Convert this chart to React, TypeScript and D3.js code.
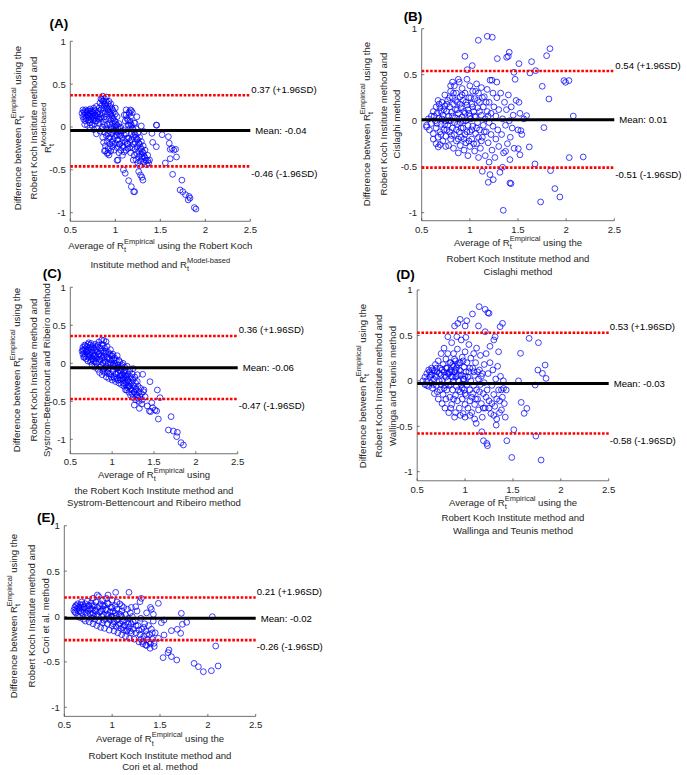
import React from "react";
import * as d3 from "d3";

// ---------- data ----------
const xTicks = [0.5, 1, 1.5, 2, 2.5];
const yTicks = [-1, -0.5, 0, 0.5, 1];

// [upper limit (+1.96SD), mean, lower limit (-1.96SD)]
const statsA = [0.37, -0.04, -0.46];
const statsB = [0.54, 0.01, -0.51];
const statsC = [0.36, -0.06, -0.47];
const statsD = [0.53, -0.03, -0.58];
const statsE = [0.21, -0.02, -0.26];

const panelLetters = ["(A)", "(B)", "(C)", "(D)", "(E)"];

const pointsA: number[][] = [
  [0.63,0.16],[0.64,0.12],[0.65,0.18],[0.65,0.09],[0.66,0.14],[0.67,0.2],[0.67,0.07],[0.68,0.11],[0.68,0.17],[0.69,0.14],[0.7,0.19],[0.7,0.08],[0.71,0.12],[0.71,0.16],[0.72,0.21],[0.72,0.05],[0.73,0.1],[0.73,0.15],[0.74,0.18],[0.74,0.02],[0.75,0.08],[0.75,0.13],[0.76,0.22],[0.76,0.16],[0.77,0.04],[0.77,0.1],[0.78,0.19],[0.78,0.14],[0.79,0.07],[0.79,0.24],[0.8,0.12],[0.8,-0.02],[0.81,0.18],[0.81,0.05],[0.82,0.22],[0.82,0.09],[0.66,0.03],[0.69,0.02],[0.72,-0.01],[0.76,-0.03],[0.79,-0.08],[0.83,-0.05],
  [0.64,0.2],[0.66,0.17],[0.67,0.1],[0.69,0.19],[0.7,0.14],[0.71,0.08],[0.73,0.19],[0.74,0.12],[0.75,0.17],[0.77,0.13],[0.77,0.2],[0.78,0.07],[0.8,0.16],[0.81,0.1],[0.83,0.15],[0.84,0.2],[0.85,0.1],[0.86,0.16],
  [0.83,0.28],[0.84,0.33],[0.85,0.25],[0.86,0.36],[0.86,0.3],[0.87,0.22],[0.88,0.33],[0.88,0.27],[0.89,0.18],[0.9,0.3],[0.9,0.24],[0.91,0.15],[0.92,0.27],[0.92,0.2],[0.93,0.11],[0.94,0.24],[0.94,0.17],[0.95,0.08],[0.96,0.22],[0.96,0.13],[0.97,0.04],[0.98,0.18],[0.98,0.1],[0.99,0.01],[1.0,0.15],[1.0,0.06],[1.01,-0.03],[1.02,0.12],[1.02,0.02],[1.03,-0.06],[1.04,0.04],[1.05,-0.01],[1.05,-0.1],[1.06,0.0],[1.07,-0.05],[1.08,-0.13],[1.09,-0.04],[1.1,-0.09],[1.11,-0.17],[1.12,-0.08],[1.13,-0.13],[1.14,-0.2],[1.15,-0.13],[1.16,-0.17],
  [0.85,0.32],[0.87,0.3],[0.89,0.26],[0.91,0.22],[0.93,0.18],[0.95,0.15],[0.97,0.1],[0.99,0.07],[1.01,0.03],[1.03,0.0],[0.9,0.35],[0.93,0.3],[0.95,0.27],[0.97,0.2],[1.0,0.22],[0.88,0.12],
  [0.84,0.12],[0.85,-0.02],[0.86,-0.12],[0.87,0.06],[0.87,-0.18],[0.88,-0.06],[0.89,0.09],[0.89,-0.22],[0.9,-0.1],[0.91,0.03],[0.91,-0.17],[0.92,-0.25],[0.93,-0.04],[0.93,-0.13],[0.94,-0.2],[0.95,0.0],[0.95,-0.28],[0.96,-0.08],[0.97,-0.16],[0.97,-0.23],[0.98,-0.04],[0.99,-0.12],[0.99,-0.27],[1.0,-0.19],[1.01,-0.09],[1.02,-0.24],[1.03,-0.15],[1.04,-0.3],[1.05,-0.2],[1.06,-0.27],[1.07,-0.18],[1.08,-0.33],[1.09,-0.24],[1.1,-0.29],[0.88,-0.28],[0.92,-0.3],
  [0.86,0.0],[0.88,0.02],[0.9,-0.02],[0.92,-0.08],[0.94,-0.12],[0.96,-0.18],[0.98,-0.2],[1.0,-0.05],[1.02,-0.1],[1.04,-0.2],[1.06,-0.1],[1.08,-0.22],[0.94,0.03],[0.96,-0.02],
  [1.1,0.14],[1.11,0.07],[1.12,0.2],[1.13,0.1],[1.14,0.02],[1.15,0.17],[1.16,0.07],[1.16,-0.02],[1.17,0.12],[1.18,0.02],[1.18,-0.08],[1.19,0.17],[1.2,-0.03],[1.2,-0.11],[1.21,0.05],[1.22,-0.09],[1.22,-0.18],[1.23,-0.02],[1.24,-0.14],[1.24,-0.23],[1.25,-0.07],[1.26,-0.19],[1.26,-0.28],[1.27,-0.12],[1.28,-0.24],[1.28,-0.32],[1.29,-0.17],[1.3,-0.29],[1.3,-0.37],[1.31,-0.22],[1.32,-0.34],[1.32,-0.41],[1.33,-0.27],[1.34,-0.39],[1.35,-0.44],[1.36,-0.33],[1.37,-0.42],[1.14,-0.25],[1.17,-0.3],[1.19,-0.24],[1.21,-0.33],[1.23,-0.38],[1.25,-0.42],[1.13,-0.2],[1.12,-0.27],[1.27,-0.45],
  [1.12,0.14],[1.14,0.08],[1.15,0.02],[1.17,0.04],[1.19,-0.02],[1.21,-0.06],[1.23,-0.12],[1.25,-0.15],[1.27,-0.2],[1.29,-0.26],[1.31,-0.3],[1.33,-0.36],[1.2,-0.2],[1.22,-0.26],[1.24,-0.31],[1.26,-0.35],[1.28,-0.4],[1.16,-0.24],[1.18,-0.15],
  [1.456,0.023],[1.46,0.02],[1.52,-0.09],[1.415,-0.179],[1.456,-0.23],[1.59,-0.113],[1.6,-0.19],[1.61,-0.26],[1.63,-0.25],[1.65,-0.27],[1.67,-0.26],[1.68,-0.35],[1.61,-0.37],[1.556,-0.42],[1.637,-0.552],[1.74,-0.62],[1.72,-0.735],[1.75,-0.755],[1.78,-0.79],[1.82,-0.81],[1.83,-0.83],[1.81,-0.85],[1.878,-0.94],[1.896,-0.957],[1.09,-0.5],[1.11,-0.54],[1.148,-0.626],[1.178,-0.696],[1.204,-0.755],[1.215,-0.755],[1.26,-0.52],[1.28,-0.56],[1.296,-0.587],[1.307,-0.62],[1.03,-0.385],[1.02,-0.39],[1.2,-0.385],[1.36,-0.393],[1.38,-0.385],[1.296,-0.346],[0.93,-0.327],[0.89,-0.276],[0.91,-0.31],[1.407,-0.074],[1.289,0.012],[1.32,-0.054],[1.22,0.043],[1.167,0.199],[1.159,0.16],[1.178,0.19],[1.24,0.12]
];

const pointsB: number[][] = [
  [0.55,-0.05],[0.57,0.02],[0.58,-0.1],[0.6,0.05],[0.6,-0.03],[0.62,-0.14],[0.62,0.1],
  [0.64,0.0],[0.65,0.15],[0.65,-0.08],[0.66,0.08],[0.67,-0.18],[0.67,0.22],[0.68,0.03],[0.69,-0.12],[0.69,0.14],[0.7,-0.04],[0.7,0.1],[0.71,0.2],[0.72,-0.22],[0.72,0.06],
  [0.73,-0.1],[0.74,0.16],[0.74,0.28],[0.75,0.0],[0.75,-0.17],[0.76,0.1],[0.77,-0.05],[0.77,0.22],[0.78,-0.27],[0.78,0.05],[0.79,0.15],[0.79,-0.12],[0.8,0.32],[0.8,-0.2],[0.8,0.0],
  [0.81,0.09],[0.82,0.25],[0.82,-0.08],[0.83,-0.3],[0.83,0.18],[0.84,0.38],[0.84,-0.15],[0.85,0.03],[0.85,0.12],[0.86,-0.22],[0.86,0.3],[0.87,-0.04],[0.87,0.2],[0.88,-0.35],[0.88,0.08],[0.89,-0.12],[0.89,0.42],[0.9,0.26],[0.9,-0.02],[0.9,-0.27],
  [0.91,0.14],[0.91,-0.18],[0.92,0.35],[0.92,0.04],[0.93,-0.08],[0.93,0.22],[0.94,-0.32],[0.94,0.1],[0.95,-0.15],[0.95,0.3],[0.96,0.0],[0.96,-0.24],[0.97,0.17],[0.97,0.45],[0.98,-0.05],[0.98,-0.38],[0.99,0.08],[0.99,0.25],[1.0,-0.12],[1.0,-0.28],[1.0,0.38],
  [1.01,0.02],[1.02,0.18],[1.02,-0.2],[1.03,0.32],[1.03,-0.06],[1.04,0.1],[1.05,-0.33],[1.05,0.24],[1.06,-0.14],[1.06,0.04],[1.07,0.4],[1.07,-0.25],[1.08,0.14],[1.08,-0.02],[1.09,0.3],[1.09,-0.4],[1.1,-0.1],[1.1,0.2],
  [1.11,-0.3],[1.12,0.06],[1.12,0.36],[1.13,-0.18],[1.14,0.15],[1.14,-0.05],[1.15,0.26],[1.16,-0.38],[1.16,0.02],[1.17,-0.12],[1.18,0.34],[1.18,0.1],[1.19,-0.24],[1.2,-0.02],[1.2,0.2],[1.2,-0.45],
  [1.21,0.44],[1.22,-0.15],[1.22,0.08],[1.23,-0.32],[1.24,0.3],[1.24,-0.06],[1.25,0.15],[1.26,-0.4],[1.27,-0.2],[1.27,0.05],[1.28,0.25],[1.29,-0.1],[1.3,-0.28],[1.3,0.12],
  [1.32,0.3],[1.33,-0.15],[1.34,0.02],[1.35,-0.35],[1.36,0.2],[1.37,-0.05],[1.38,0.12],[1.39,-0.25],[1.4,0.28],[1.41,0.0],[1.42,-0.18],[1.43,0.15],[1.44,-0.08],[1.45,0.06],[1.46,-0.3],[1.48,0.22],[1.5,-0.1],[1.51,0.2],[1.52,0.08],[1.54,-0.15],[1.56,0.02],[1.47,0.45],[1.28,0.42],[1.23,0.44],
  [0.63,0.05],[0.66,-0.03],[0.68,0.18],[0.7,-0.15],[0.71,0.02],[0.73,0.12],[0.74,-0.04],[0.76,0.18],[0.76,-0.1],[0.78,0.0],[0.79,0.25],[0.81,-0.16],[0.82,0.05],[0.83,0.3],[0.84,-0.02],[0.85,0.22],[0.86,-0.1],[0.87,0.12],[0.88,-0.2],[0.89,0.02],[0.9,0.18],[0.91,-0.08],[0.92,0.28],[0.93,0.0],[0.94,-0.2],[0.95,0.08],[0.96,0.2],[0.97,-0.12],[0.98,0.12],[0.99,-0.22],[1.0,0.05],[1.01,0.25],[1.02,-0.1],[1.03,0.15],[1.04,-0.25],[1.05,0.05],[1.06,0.32],[1.07,-0.08],[1.08,0.22],[1.09,-0.18],[1.1,0.1],[1.12,-0.22],[1.13,0.25],[1.15,-0.12],[1.17,0.2],[1.19,0.05],[0.62,-0.2],[0.65,-0.25],[0.75,-0.28],[0.8,0.38],[0.88,0.45],[0.82,0.42],
  [1.088,0.874],[1.181,0.917],[1.233,0.907],[0.949,0.7],[1.285,0.675],[1.382,0.689],[1.409,0.744],[1.399,0.7],[1.51,0.62],[1.641,0.642],[1.797,0.707],[1.832,0.783],[1.458,0.526],[1.624,0.519],[1.683,0.544],[1.025,0.599],[0.973,0.555],[1.977,0.436],[2.029,0.436],[1.994,0.417],[1.752,0.374],[1.821,0.236],[2.074,0.051],[1.769,-0.075],[1.589,0.055],[1.53,-0.108],[2.032,-0.401],[2.177,-0.394],[1.676,-0.47],[1.838,-0.543],[1.883,-0.738],[1.935,-0.829],[1.735,-0.883],[1.347,-0.974],[1.416,-0.677],[1.427,-0.684],[1.191,-0.67],[1.243,-0.641],[1.129,-0.55],[1.312,-0.561],[1.34,-0.506],[1.209,-0.586],[0.69,-0.26],[0.672,-0.285],[0.551,-0.068],[1.617,-0.285],[1.503,-0.304],[1.52,-0.37],[1.371,-0.333],[1.416,-0.423]
];

const pointsC: number[][] = [
  [0.64,0.16],[0.65,0.12],[0.65,0.21],[0.66,0.08],[0.66,0.17],[0.67,0.13],[0.67,0.24],[0.68,0.1],[0.68,0.19],[0.69,0.06],[0.69,0.15],[0.7,0.22],[0.7,0.11],[0.71,0.03],[0.71,0.17],[0.72,0.27],[0.72,0.08],
  [0.73,0.14],[0.73,0.21],[0.74,0.02],[0.74,0.1],[0.75,0.18],[0.75,0.26],[0.76,0.06],[0.76,-0.02],[0.77,0.13],[0.77,0.22],[0.78,0.03],[0.78,0.09],[0.79,0.17],[0.79,-0.05],[0.8,0.25],[0.8,0.11],
  [0.81,0.0],[0.81,0.06],[0.82,0.15],[0.82,0.22],[0.83,-0.08],[0.83,0.09],[0.84,0.02],[0.84,0.28],[0.85,0.13],[0.85,-0.12],[0.86,0.2],[0.86,0.05],[0.87,-0.03],[0.87,0.1],[0.88,0.25],[0.88,-0.15],[0.89,0.16],[0.89,0.0],[0.9,-0.07],[0.9,0.08],[0.9,0.3],
  [0.91,0.2],[0.91,-0.12],[0.92,0.02],[0.92,0.13],[0.93,-0.04],[0.93,-0.18],[0.94,0.08],[0.94,0.22],[0.95,-0.1],[0.95,0.0],[0.96,0.14],[0.96,-0.2],[0.97,0.05],[0.97,-0.06],[0.98,0.18],[0.98,-0.14],[0.99,0.1],[0.99,-0.02],[1.0,-0.22],[1.0,0.04],
  [1.01,-0.1],[1.01,0.12],[1.02,-0.04],[1.02,-0.18],[1.03,0.07],[1.03,0.0],[1.04,-0.14],[1.04,-0.24],[1.05,0.04],[1.05,-0.07],[1.06,-0.2],[1.06,0.1],[1.07,-0.02],[1.07,-0.12],[1.08,-0.26],[1.08,-0.06],[1.09,0.02],[1.09,-0.17],[1.1,-0.1],[1.1,-0.22],
  [1.11,-0.04],[1.11,-0.28],[1.12,-0.15],[1.12,-0.08],[1.13,-0.2],[1.13,0.0],[1.14,-0.12],[1.14,-0.3],[1.15,-0.05],[1.15,-0.22],[1.16,-0.16],[1.16,-0.35],[1.17,-0.1],[1.17,-0.26],[1.18,-0.2],[1.18,-0.04],[1.19,-0.3],[1.19,-0.14],[1.2,-0.24],[1.2,-0.38],
  [1.21,-0.1],[1.21,-0.3],[1.22,-0.18],[1.22,-0.42],[1.23,-0.26],[1.24,-0.35],[1.24,-0.14],[1.25,-0.22],[1.25,-0.45],[1.26,-0.3],[1.27,-0.38],[1.27,-0.18],[1.28,-0.26],[1.28,-0.48],[1.29,-0.34],[1.3,-0.42],[1.3,-0.24],[1.31,-0.3],[1.32,-0.38],[1.32,-0.5],[1.33,-0.44],[1.34,-0.33],[1.35,-0.4],[1.36,-0.48],[1.38,-0.35],[1.25,-0.07],[1.3,-0.15],
  [0.65,0.18],[0.67,0.08],[0.68,0.23],[0.7,0.16],[0.71,0.25],[0.72,0.12],[0.74,0.24],[0.75,0.04],[0.76,0.15],[0.77,0.06],[0.78,0.2],[0.79,0.1],[0.8,0.02],[0.81,0.2],[0.83,0.24],[0.84,0.12],[0.85,0.05],[0.86,-0.05],[0.87,0.16],[0.88,0.06],[0.89,-0.1],[0.9,0.14],[0.91,0.04],[0.92,-0.06],[0.93,0.16],[0.94,-0.12],[0.95,0.06],[0.96,-0.14],[0.97,0.12],[0.98,0.0],[0.99,-0.18],[1.0,0.1],[1.01,-0.02],[1.02,0.06],[1.03,-0.2],[1.04,-0.04],[1.05,-0.14],[1.06,-0.06],[1.07,-0.22],[1.08,0.04],[1.09,-0.1],[1.1,-0.16],[1.11,-0.2],[1.12,-0.02],[1.13,-0.26],[1.14,-0.18],[1.15,-0.1],[1.16,-0.28],[1.17,-0.18],[1.18,-0.32],[1.19,-0.22],[1.2,-0.3],[1.22,-0.34],[1.23,-0.2],[1.24,-0.4],[1.26,-0.38],[1.28,-0.34],[1.29,-0.42],[1.31,-0.46],
  [1.452,-0.242],[1.54,-0.351],[1.572,-0.452],[1.393,-0.439],[1.473,-0.518],[1.512,-0.615],[1.552,-0.733],[1.484,-0.584],[1.42,-0.562],[1.445,-0.628],[1.46,-0.636],[1.532,-0.628],[1.704,-0.702],[1.672,-0.878],[1.731,-0.891],[1.779,-0.908],[1.771,-0.965],[1.823,-1.044],[1.851,-1.075],[1.353,-0.536],[1.325,-0.593],[1.265,-0.549],[1.174,-0.351],[1.373,-0.373],[0.927,0.285],[0.875,0.306],[0.895,0.241],[1.365,-0.145]
];

const pointsD: number[][] = [
  [0.56,0.0],[0.58,0.04],[0.58,-0.04],[0.6,0.08],[0.6,0.0],[0.62,-0.06],[0.62,0.12],[0.63,0.04],[0.64,-0.02],[0.65,0.14],[0.65,0.07],[0.66,-0.08],[0.67,0.02],[0.68,0.11],[0.68,-0.14],[0.69,0.18],[0.7,0.04],[0.7,-0.05],[0.71,0.1],[0.72,-0.2],[0.72,0.22],[0.73,0.0],
  [0.74,0.14],[0.74,-0.1],[0.75,0.07],[0.75,0.3],[0.76,-0.25],[0.76,0.0],[0.77,0.18],[0.77,-0.15],[0.78,0.1],[0.78,0.36],[0.79,-0.05],[0.79,-0.3],[0.8,0.24],[0.8,0.04],[0.8,-0.2],
  [0.81,0.14],[0.81,-0.1],[0.82,0.3],[0.82,0.0],[0.83,-0.35],[0.83,0.08],[0.84,0.2],[0.84,-0.18],[0.85,0.12],[0.85,-0.04],[0.86,0.42],[0.86,0.05],[0.86,-0.26],[0.87,0.18],[0.87,-0.1],[0.88,0.0],[0.88,0.3],[0.89,0.1],[0.89,-0.4],[0.9,-0.16],[0.9,0.22],[0.9,0.04],
  [0.91,-0.06],[0.91,0.14],[0.92,0.35],[0.92,-0.22],[0.93,0.07],[0.93,0.0],[0.94,-0.3],[0.94,0.2],[0.95,-0.12],[0.95,0.11],[0.96,0.45],[0.96,-0.04],[0.97,0.26],[0.97,-0.2],[0.98,0.02],[0.98,-0.36],[0.99,0.15],[0.99,-0.1],[1.0,0.32],[1.0,-0.26],[1.0,0.05],
  [1.01,-0.16],[1.02,0.2],[1.02,-0.04],[1.03,-0.3],[1.04,0.1],[1.04,0.4],[1.05,-0.1],[1.05,-0.22],[1.06,0.25],[1.06,0.0],[1.07,-0.35],[1.08,0.14],[1.08,-0.14],[1.09,0.3],[1.09,-0.05],[1.1,-0.26],[1.1,0.06],[1.1,-0.42],
  [1.11,0.2],[1.12,-0.1],[1.12,0.36],[1.13,-0.2],[1.14,0.02],[1.14,-0.32],[1.15,0.12],[1.16,-0.04],[1.16,0.28],[1.17,-0.25],[1.18,0.08],[1.18,-0.4],[1.19,-0.14],[1.2,0.18],[1.2,-0.02],
  [1.21,-0.3],[1.22,0.3],[1.23,-0.1],[1.24,0.08],[1.25,-0.22],[1.26,0.2],[1.27,-0.36],[1.28,-0.05],[1.29,0.12],[1.3,-0.15],[1.31,-0.28],[1.32,0.02],[1.33,-0.42],[1.34,0.16],[1.35,-0.1],[1.36,-0.22],[1.37,0.05],[1.38,-0.32],[1.39,-0.18],[1.4,0.0],[1.41,-0.25],[1.42,-0.4],[1.43,-0.1],[1.26,0.38],[1.3,0.45],[1.35,0.32],
  [0.6,-0.05],[0.63,0.1],[0.64,0.06],[0.66,0.12],[0.67,-0.04],[0.69,0.06],[0.7,0.14],[0.71,-0.12],[0.73,0.08],[0.75,-0.04],[0.76,0.12],[0.78,-0.08],[0.79,0.06],[0.8,0.14],[0.82,0.08],[0.83,-0.05],[0.84,0.1],[0.85,0.2],[0.86,0.1],[0.87,0.04],[0.88,0.16],[0.88,-0.2],[0.89,0.24],[0.9,0.12],[0.91,0.05],[0.92,0.18],[0.93,-0.1],[0.94,0.12],[0.95,0.2],[0.96,0.06],[0.97,-0.08],[0.98,0.22],[0.99,0.02],[1.0,-0.14],[1.01,0.1],[1.03,0.04],[1.05,0.14],[1.07,-0.18],[1.09,0.1],[1.11,-0.2],[1.13,0.1],[1.15,-0.12],[1.17,0.05],[1.19,-0.3],[1.22,-0.18],[1.25,-0.3],[1.28,-0.25],[1.3,-0.38],[1.33,-0.2],[1.36,-0.35],[1.38,-0.1],[0.85,-0.3],[0.9,-0.35],[0.95,-0.38],[1.0,-0.4],[1.05,-0.38],
  [1.147,0.817],[1.21,0.787],[1.238,0.75],[1.251,0.743],[1.077,0.736],[0.949,0.677],[1.018,0.662],[0.89,0.604],[0.924,0.633],[1.001,0.604],[1.391,0.633],[1.366,0.596],[1.21,0.541],[1.14,0.604],[0.82,0.486],[0.914,0.486],[1.008,0.479],[1.314,0.486],[1.669,0.468],[1.766,0.42],[1.579,0.303],[1.836,0.174],[1.76,0.119],[1.808,0.082],[1.846,0.027],[1.558,0.0],[1.732,-0.046],[1.401,-0.083],[1.586,-0.237],[1.645,-0.303],[1.617,-0.358],[1.509,-0.538],[1.739,-0.608],[1.436,-0.659],[1.192,-0.659],[1.227,-0.689],[1.234,-0.714],[1.488,-0.843],[1.794,-0.872],[1.116,-0.468],[1.175,-0.56],[1.325,-0.487]
];

const pointsE: number[][] = [
  [0.6,0.07],[0.61,0.1],[0.62,0.04],[0.62,0.12],[0.63,0.08],[0.64,0.01],[0.64,0.14],[0.65,0.06],[0.66,0.1],[0.66,-0.01],[0.67,0.13],[0.68,0.04],[0.68,0.16],[0.69,0.08],[0.7,-0.03],[0.7,0.11],
  [0.71,0.05],[0.72,0.14],[0.72,-0.05],[0.73,0.09],[0.74,0.02],[0.74,0.17],[0.75,0.06],[0.76,-0.06],[0.76,0.12],[0.77,0.03],[0.78,0.15],[0.78,-0.02],[0.79,0.08],[0.8,0.2],[0.8,-0.08],[0.8,0.04],
  [0.81,0.12],[0.82,-0.03],[0.82,0.07],[0.83,0.16],[0.84,-0.1],[0.84,0.02],[0.85,0.1],[0.86,0.22],[0.86,-0.05],[0.87,0.05],[0.88,0.14],[0.88,-0.12],[0.89,0.0],[0.9,0.08],[0.9,0.18],[0.9,-0.07],
  [0.91,0.02],[0.92,0.12],[0.92,-0.13],[0.93,-0.03],[0.94,0.07],[0.94,0.2],[0.95,-0.08],[0.96,0.01],[0.96,0.14],[0.97,-0.15],[0.98,0.05],[0.98,-0.04],[0.99,0.1],[1.0,-0.1],[1.0,0.0],[1.0,0.18],
  [1.01,0.06],[1.02,-0.06],[1.02,-0.16],[1.03,0.12],[1.04,0.01],[1.04,-0.11],[1.05,0.08],[1.06,-0.03],[1.06,-0.18],[1.07,0.03],[1.08,-0.08],[1.08,0.14],[1.09,-0.13],[1.1,0.0],[1.1,-0.2],[1.1,0.06],
  [1.11,-0.05],[1.12,-0.15],[1.12,0.1],[1.13,-0.1],[1.14,0.02],[1.14,-0.22],[1.15,-0.06],[1.16,-0.15],[1.16,0.08],[1.17,-0.02],[1.18,-0.12],[1.18,-0.24],[1.19,0.04],[1.2,-0.08],[1.2,-0.18],
  [1.21,0.0],[1.22,-0.14],[1.23,-0.25],[1.24,-0.05],[1.25,-0.18],[1.26,0.06],[1.27,-0.1],[1.28,-0.28],[1.29,-0.2],[1.3,-0.02],[1.31,-0.14],[1.32,-0.3],[1.33,-0.22],[1.34,-0.08],[1.35,-0.16],[1.36,-0.32],[1.37,-0.25],[1.38,-0.1],[1.39,-0.2],[1.4,-0.3],[1.41,-0.14],[1.42,-0.25],[1.43,-0.05],[1.44,-0.33],[1.45,-0.18],[1.36,0.04],[1.4,0.1],
  [0.61,0.05],[0.63,0.12],[0.65,0.1],[0.67,0.06],[0.69,0.13],[0.71,0.1],[0.73,0.04],[0.75,0.12],[0.77,0.08],[0.79,0.12],[0.81,0.0],[0.83,0.06],[0.85,0.0],[0.87,0.12],[0.89,0.06],[0.91,-0.04],[0.93,0.08],[0.95,0.02],[0.97,-0.02],[0.99,0.0],[1.01,-0.08],[1.03,0.04],[1.05,-0.04],[1.07,-0.1],[1.09,0.02],[1.11,-0.12],[1.13,-0.04],[1.15,-0.16],[1.17,-0.08],[1.19,-0.16],[1.22,-0.06],[1.25,-0.1],[1.28,-0.15],[1.3,-0.25],[1.33,-0.12],[1.36,-0.2],[1.39,-0.28],[1.42,-0.18],[0.9,0.12],[1.0,0.1],[1.1,0.12],[1.2,0.1],[1.05,0.16],[0.95,0.15],
  [2.047,-0.002],[2.082,-0.325],[2.107,-0.545],[2.037,-0.597],[1.953,-0.608],[1.901,-0.553],[1.856,-0.516],[1.723,0.035],[1.779,-0.064],[1.734,-0.086],[1.681,-0.141],[1.716,-0.185],[1.619,-0.156],[1.675,-0.479],[1.619,-0.442],[1.594,-0.369],[1.584,-0.398],[1.532,-0.453],[1.483,0.145],[1.305,0.2],[1.291,0.163],[1.176,0.266],[1.037,0.266],[0.957,0.237],[0.845,0.237],[1.246,0.108],[1.41,0.079],[1.431,0.024],[1.542,-0.038],[1.514,-0.068],[1.542,-0.204],[1.483,-0.24],[1.438,-0.295],[1.396,-0.35],[1.35,-0.314],[1.316,-0.277]
];

// ---------- text ----------
type Seg = string | { sub: string; sup: string };
const REMP: Seg = { sub: "t", sup: "Empirical" };
const RMOD: Seg = { sub: "t", sup: "Model-based" };

const yLabelA: Seg[][] = [["Difference between R", REMP, " using the"], ["Robert Koch Institute method and"], ["R", RMOD]];
const yLabelB: Seg[][] = [["Difference between R", REMP, " using the"], ["Robert Koch Institute method and"], ["Cislaghi method"]];
const yLabelC: Seg[][] = [["Difference between R", REMP, " using the"], ["Robert Koch Institute method and"], ["Systrom-Bettencourt and Ribeiro method"]];
const yLabelD: Seg[][] = [["Difference between R", REMP, " using the"], ["Robert Koch Institute method and"], ["Wallinga and Teunis method"]];
const yLabelE: Seg[][] = [["Difference between R", REMP, " using the"], ["Robert Koch Institute method and"], ["Cori et al. method"]];

const xLabelA: Seg[][] = [["Average of R", REMP, " using the Robert Koch"], ["Institute method and R", RMOD]];
const xLabelB: Seg[][] = [["Average of R", REMP, " using the"], ["Robert Koch Institute method and"], ["Cislaghi method"]];
const xLabelC: Seg[][] = [["Average of R", REMP, " using"], ["the Robert Koch Institute method and"], ["Systrom-Bettencourt and Ribeiro method"]];
const xLabelD: Seg[][] = [["Average of R", REMP, " using the"], ["Robert Koch Institute method and"], ["Wallinga and Teunis method"]];
const xLabelE: Seg[][] = [["Average of R", REMP, " using the"], ["Robert Koch Institute method and"], ["Cori et al. method"]];

const FONT = "'Liberation Sans', Arial, sans-serif";
const FS = 9.6;

function rich(segs: Seg[], fs: number) {
  const small = fs * 0.78;
  const nodes: React.ReactNode[] = [];
  let cur = 0;
  segs.forEach((s, i) => {
    if (typeof s === "string") {
      nodes.push(<tspan key={i} dy={-cur} fontSize={fs}>{s}</tspan>);
      cur = 0;
    } else {
      nodes.push(<tspan key={i + "b"} dy={3.3 - cur} fontSize={small}>{s.sub}</tspan>);
      nodes.push(<tspan key={i + "p"} dx={-small * 0.28} dy={-8.3} fontSize={small}>{s.sup}</tspan>);
      cur = -5.0;
    }
  });
  return nodes;
}

type Layout = {
  x0: number; x1: number; yTop: number; yM1: number; ymin: number; tickOff: number;
  letter: [number, number];
  yLab: { vc: number; xs: number[] };
  xLab: { xc: number; ys: number[] };
};

function Panel({ L, pts, stats, letter, yLabel, xLabel }: { L: Layout; pts: number[][]; stats: number[]; letter: string; yLabel: Seg[][]; xLabel: Seg[][] }) {
  const x = d3.scaleLinear().domain([0.5, 2.5]).range([L.x0, L.x1]);
  const y = d3.scaleLinear().domain([-1, 1]).range([L.yM1, L.yTop]);
  const yB = y(L.ymin);
  const [up, mean, lo] = stats;
  const fmt = (v: number) => v.toFixed(2);
  return (
    <g fontFamily={FONT}>
      <line x1={L.x0} x2={L.x0} y1={y(1)} y2={yB} stroke="#4d4d4d" strokeWidth={0.8} />
      <line x1={L.x0} x2={L.x1} y1={yB} y2={yB} stroke="#4d4d4d" strokeWidth={0.8} />
      {yTicks.map((t) => (
        <g key={"y" + t}>
          <line x1={L.x0} x2={L.x0 + 2.5} y1={y(t)} y2={y(t)} stroke="#4d4d4d" strokeWidth={0.8} />
          <text x={L.x0 - 4.5} y={y(t) + 3.4} textAnchor="end" fontSize={FS} fill="#262626">{String(t)}</text>
        </g>
      ))}
      {xTicks.map((t) => (
        <g key={"x" + t}>
          <line x1={x(t)} x2={x(t)} y1={yB} y2={yB - 2.5} stroke="#4d4d4d" strokeWidth={0.8} />
          <text x={x(t)} y={yB + L.tickOff} textAnchor="middle" fontSize={FS} fill="#262626">{String(t)}</text>
        </g>
      ))}
      {pts.map((p, i) => (
        <circle key={i} cx={x(p[0])} cy={y(p[1])} r={2.9} fill="none" stroke="#0000ff" strokeWidth={0.75} />
      ))}
      <line x1={x(0.5)} x2={x(2.5)} y1={y(up)} y2={y(up)} stroke="#ff0000" strokeWidth={2.6} strokeDasharray="2.6 1.6" />
      <line x1={x(0.5)} x2={x(2.5)} y1={y(lo)} y2={y(lo)} stroke="#ff0000" strokeWidth={2.6} strokeDasharray="2.6 1.6" />
      <line x1={x(0.5)} x2={x(2.5)} y1={y(mean)} y2={y(mean)} stroke="#000" strokeWidth={3} />
      <text x={L.x1 + 1} y={y(up) - 2.5} fontSize={FS} fill="#000">{`${fmt(up)} (+1.96SD)`}</text>
      <text x={L.x1 + 5} y={y(mean) + 3.5} fontSize={FS} fill="#000">{`Mean: ${fmt(mean)}`}</text>
      <text x={L.x1 + 1} y={y(lo) + 10.3} fontSize={FS} fill="#000">{`${fmt(lo)} (-1.96SD)`}</text>
      <text x={L.letter[0]} y={L.letter[1]} textAnchor="middle" fontSize={13.5} fontWeight="bold" fill="#000">{letter}</text>
      {yLabel.map((segs, i) => (
        <text key={"yl" + i} transform={`translate(${L.yLab.xs[i]},${L.yLab.vc}) rotate(-90)`} textAnchor="middle" fill="#262626" fontSize={FS}>
          {rich(segs, FS)}
        </text>
      ))}
      {xLabel.map((segs, i) => (
        <text key={"xl" + i} x={L.xLab.xc} y={L.xLab.ys[i]} textAnchor="middle" fill="#262626" fontSize={FS}>
          {rich(segs, FS)}
        </text>
      ))}
    </g>
  );
}

export default function App() {
  const layouts: Layout[] = [
    { x0: 70.3, x1: 250.3, yTop: 41.3, yM1: 212.7, ymin: -1.1, tickOff: 11.8, letter: [58.8, 28], yLab: { vc: 128, xs: [20.5, 37, 51] }, xLab: { xc: 160.3, ys: [249, 268] } },
    { x0: 421.7, x1: 614.3, yTop: 28.7, yM1: 212.7, ymin: -1.087, tickOff: 11.8, letter: [413, 20.5], yLab: { vc: 124, xs: [370, 387, 400] }, xLab: { xc: 518, ys: [246, 262, 275.4] } },
    { x0: 70.3, x1: 237.7, yTop: 287.3, yM1: 439.3, ymin: -1.19, tickOff: 11, letter: [52.2, 278], yLab: { vc: 370, xs: [20, 37, 50] }, xLab: { xc: 154, ys: [477.8, 494, 505.6] } },
    { x0: 417.2, x1: 608.7, yTop: 290, yM1: 471.7, ymin: -1.1, tickOff: 11.8, letter: [405.5, 279], yLab: { vc: 386, xs: [366, 382, 396] }, xLab: { xc: 513, ys: [505.7, 521.4, 534.4] } },
    { x0: 64.3, x1: 255.7, yTop: 525.7, yM1: 707.3, ymin: -1.1, tickOff: 11.8, letter: [46, 522], yLab: { vc: 616, xs: [17, 35, 48.5] }, xLab: { xc: 160, ys: [742.2, 758.7, 770.4] } },
  ];
  const pts = [pointsA, pointsB, pointsC, pointsD, pointsE];
  const stats = [statsA, statsB, statsC, statsD, statsE];
  const yl = [yLabelA, yLabelB, yLabelC, yLabelD, yLabelE];
  const xl = [xLabelA, xLabelB, xLabelC, xLabelD, xLabelE];
  return (
    <svg width={687} height={775} style={{ position: "absolute", left: 0, top: 0, background: "#fff" }}>
      <rect width={687} height={775} fill="#fff" />
      {layouts.map((L, i) => (
        <Panel key={i} L={L} pts={pts[i]} stats={stats[i]} letter={panelLetters[i]} yLabel={yl[i]} xLabel={xl[i]} />
      ))}
    </svg>
  );
}
